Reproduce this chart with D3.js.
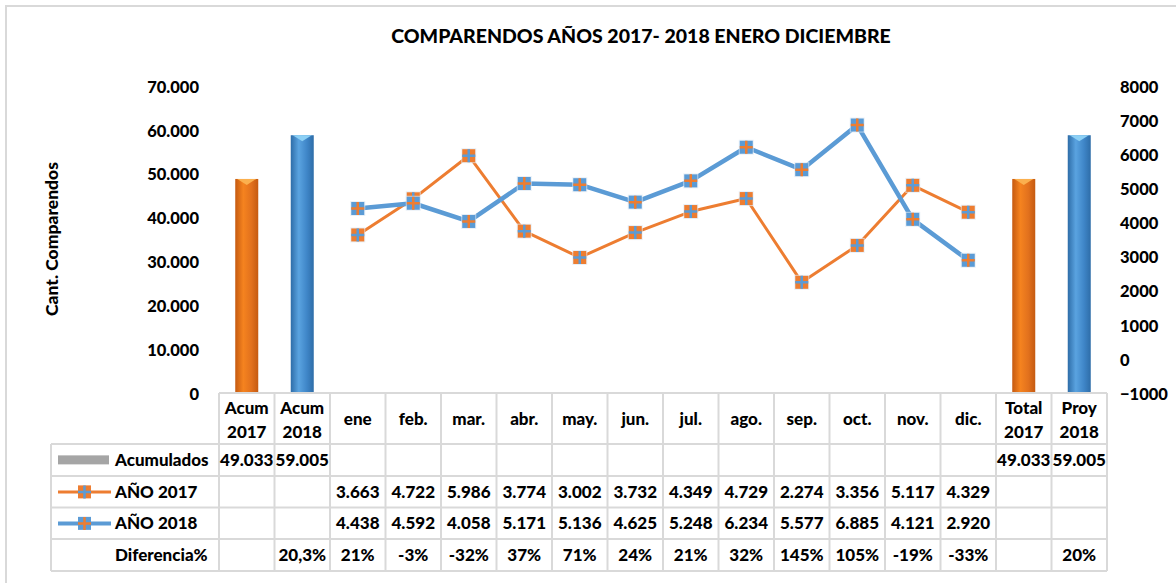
<!DOCTYPE html>
<html>
<head>
<meta charset="utf-8">
<script src="https://cdn.jsdelivr.net/npm/d3@7"></script>
<style>
  body { margin: 0; background: #fff; }
  svg { font-family: Lato, "Open Sans", sans-serif; font-weight: 900; }
</style>
</head>
<body>
<svg id="chart" width="1176" height="583"></svg>
<script>
// categories of the x axis / table columns
var categories = ["Acum 2017", "Acum 2018", "ene", "feb.", "mar.", "abr.", "may.", "jun.",
                  "jul.", "ago.", "sep.", "oct.", "nov.", "dic.", "Total 2017", "Proy 2018"];
var months = ["ene", "feb.", "mar.", "abr.", "may.", "jun.", "jul.", "ago.", "sep.", "oct.", "nov.", "dic."];

// accumulated bars (left axis)
var acumCats = ["Acum 2017", "Acum 2018", "Total 2017", "Proy 2018"];
var acumValues = [49033, 59005, 49033, 59005];

// monthly lines (right axis)
var anio2017 = [3663, 4722, 5986, 3774, 3002, 3732, 4349, 4729, 2274, 3356, 5117, 4329];
var anio2018 = [4438, 4592, 4058, 5171, 5136, 4625, 5248, 6234, 5577, 6885, 4121, 2920];

// difference row, as printed
var diferencia = ["", "20,3%", "21%", "-3%", "-32%", "37%", "71%", "24%", "21%", "32%",
                  "145%", "105%", "-19%", "-33%", "", "20%"];

var leftTicks = [0, 10000, 20000, 30000, 40000, 50000, 60000, 70000];
var rightTicks = [-1000, 0, 1000, 2000, 3000, 4000, 5000, 6000, 7000, 8000];

var orange = "#ed7d31", blue = "#5b9bd5", gridGray = "#d9d9d9";

var es = d3.formatLocale({ decimal: ",", thousands: ".", grouping: [3], currency: ["$", ""] });
var fmt = es.format(",d");

var svg = d3.select("#chart");

// outer chart border (only top/left visible)
svg.append("rect").attr("x", 6).attr("y", 6).attr("width", 1200).attr("height", 600)
  .attr("fill", "none").attr("stroke", gridGray).attr("stroke-width", 2);

// title
svg.append("text").attr("x", 641).attr("y", 43).attr("text-anchor", "middle")
  .attr("font-size", 19.5).text("COMPARENDOS AÑOS 2017- 2018 ENERO DICIEMBRE");

// scales
var x = d3.scaleBand().domain(categories).range([219, 1107]).padding(0);
var yL = d3.scaleLinear().domain([0, 70000]).range([394, 87]);
var yR = d3.scaleLinear().domain([-1000, 8000]).range([394, 87]);

// axes
var axL = svg.append("g").attr("transform", "translate(202,0)")
  .call(d3.axisLeft(yL).tickValues(leftTicks).tickSize(0).tickFormat(function (d) { return d === 0 ? "0" : fmt(d); }));
axL.select(".domain").remove();
axL.selectAll("text").attr("font-size", 16.5).attr("font-family", "Lato").attr("font-weight", 900).attr("fill", "#000");

var axR = svg.append("g").attr("transform", "translate(1117,0)")
  .call(d3.axisRight(yR).tickValues(rightTicks).tickSize(0).tickFormat(d3.format("d")));
axR.select(".domain").remove();
axR.selectAll("text").attr("font-size", 16.5).attr("font-family", "Lato").attr("font-weight", 900).attr("fill", "#000");

svg.append("text").attr("transform", "translate(58,239) rotate(-90)").attr("text-anchor", "middle")
  .attr("font-size", 17.5).text("Cant. Comparendos");

// gradients for the bars
var defs = svg.append("defs");
function grad(id, edge, mid, light) {
  var g = defs.append("linearGradient").attr("id", id).attr("x1", "0").attr("x2", "1").attr("y1", "0").attr("y2", "0");
  g.append("stop").attr("offset", "0%").attr("stop-color", edge);
  g.append("stop").attr("offset", "35%").attr("stop-color", light);
  g.append("stop").attr("offset", "70%").attr("stop-color", mid);
  g.append("stop").attr("offset", "100%").attr("stop-color", edge);
}
grad("gOrange", "#c55a11", "#e2711d", "#f5831f");
grad("gBlue", "#2e6da8", "#3f86c8", "#5aa3e0");

var barW = 23;
var bars = svg.append("g");
acumCats.forEach(function (c, i) {
  var cx = x(c) + x.bandwidth() / 2;
  var top = yL(acumValues[i]);
  var isOr = i % 2 === 0;
  bars.append("rect").attr("x", cx - barW / 2).attr("y", top).attr("width", barW)
    .attr("height", yL(0) - top).attr("fill", isOr ? "url(#gOrange)" : "url(#gBlue)");
  bars.append("path")
    .attr("d", "M" + (cx - barW / 2 + 2) + "," + top + "L" + (cx + barW / 2 - 2) + "," + top + "L" + cx + "," + (top + 6) + "Z")
    .attr("fill", isOr ? "#fbb04e" : "#8cd0f5");
});

// lines
function drawSeries(values, color, plusColor, width) {
  var pts = months.map(function (m, i) { return [x(m) + x.bandwidth() / 2, yR(values[i])]; });
  svg.append("path").attr("d", d3.line()(pts)).attr("fill", "none")
    .attr("stroke", color).attr("stroke-width", width).attr("stroke-linejoin", "round");
  var g = svg.append("g");
  pts.forEach(function (p) {
    g.append("rect").attr("x", p[0] - 7.5).attr("y", p[1] - 7.5).attr("width", 15).attr("height", 15)
      .attr("fill", "#dfe9f3").attr("opacity", 0.7);
    g.append("rect").attr("x", p[0] - 6.5).attr("y", p[1] - 6.5).attr("width", 13).attr("height", 13).attr("fill", color);
    g.append("path").attr("d", "M" + (p[0] - 6.5) + "," + p[1] + "H" + (p[0] + 6.5) + "M" + p[0] + "," + (p[1] - 6.5) + "V" + (p[1] + 6.5))
      .attr("stroke", plusColor).attr("stroke-width", 2.5);
  });
}
drawSeries(anio2017, orange, blue, 3);
drawSeries(anio2018, blue, orange, 4.5);

// data table
var rowTop = [444, 476, 507.5, 539], rowH = 31.75, headTop = 393;
var fs = 17;
var tbl = svg.append("g");
var tableRight = x.range()[1];
// header grid
tbl.append("line").attr("x1", 219).attr("x2", tableRight).attr("y1", headTop).attr("y2", headTop);
categories.concat(["_end"]).forEach(function (c, i) {
  var xx = i < categories.length ? x(c) : tableRight;
  tbl.append("line").attr("x1", xx).attr("x2", xx).attr("y1", headTop).attr("y2", 571);
});
rowTop.concat([571]).forEach(function (yy) {
  tbl.append("line").attr("x1", 51).attr("x2", tableRight).attr("y1", yy).attr("y2", yy);
});
tbl.append("line").attr("x1", 51).attr("x2", 51).attr("y1", 444).attr("y2", 571);
tbl.selectAll("line").attr("stroke", gridGray).attr("stroke-width", 2);

// header text
categories.forEach(function (c) {
  var cx = x(c) + x.bandwidth() / 2;
  var parts = c.split(" ");
  var t = tbl.append("text").attr("text-anchor", "middle").attr("font-size", fs);
  if (parts.length === 2) {
    t.append("tspan").attr("x", cx).attr("y", 414).text(parts[0]);
    t.append("tspan").attr("x", cx).attr("y", 438).text(parts[1]);
  } else {
    t.attr("x", cx).attr("y", 425).text(c);
  }
});

// row labels + legend keys
var labelX = 115;
var rowLabels = ["Acumulados", "AÑO 2017", "AÑO 2018", "Diferencia%"];
rowLabels.forEach(function (l, i) {
  tbl.append("text").attr("x", labelX).attr("y", rowTop[i] + rowH / 2 + 6).attr("font-size", fs).text(l);
});
var k0 = rowTop[0] + rowH / 2;
tbl.append("rect").attr("x", 58).attr("y", k0 - 4.5).attr("width", 51).attr("height", 9).attr("fill", "#a5a5a5");
[[orange, blue, 3], [blue, orange, 4]].forEach(function (s, i) {
  var ky = rowTop[i + 1] + rowH / 2;
  tbl.append("line").attr("x1", 58).attr("x2", 111).attr("y1", ky).attr("y2", ky).attr("stroke", s[0]).attr("stroke-width", s[2]);
  tbl.append("rect").attr("x", 84.5 - 6.5).attr("y", ky - 6.5).attr("width", 13).attr("height", 13).attr("fill", s[0]);
  tbl.append("path").attr("d", "M78," + ky + "H91M84.5," + (ky - 6.5) + "V" + (ky + 6.5)).attr("stroke", s[1]).attr("stroke-width", 2.5);
});

// cell values
function cellRow(rowIdx, getter) {
  categories.forEach(function (c, j) {
    var v = getter(c, j);
    if (v === "" || v == null) return;
    tbl.append("text").attr("x", x(c) + x.bandwidth() / 2).attr("y", rowTop[rowIdx] + rowH / 2 + 6)
      .attr("text-anchor", "middle").attr("font-size", fs).text(v);
  });
}
cellRow(0, function (c) { var k = acumCats.indexOf(c); return k < 0 ? "" : fmt(acumValues[k]); });
cellRow(1, function (c) { var k = months.indexOf(c); return k < 0 ? "" : fmt(anio2017[k]); });
cellRow(2, function (c) { var k = months.indexOf(c); return k < 0 ? "" : fmt(anio2018[k]); });
cellRow(3, function (c, j) { return diferencia[j]; });
</script>
</body>
</html>
